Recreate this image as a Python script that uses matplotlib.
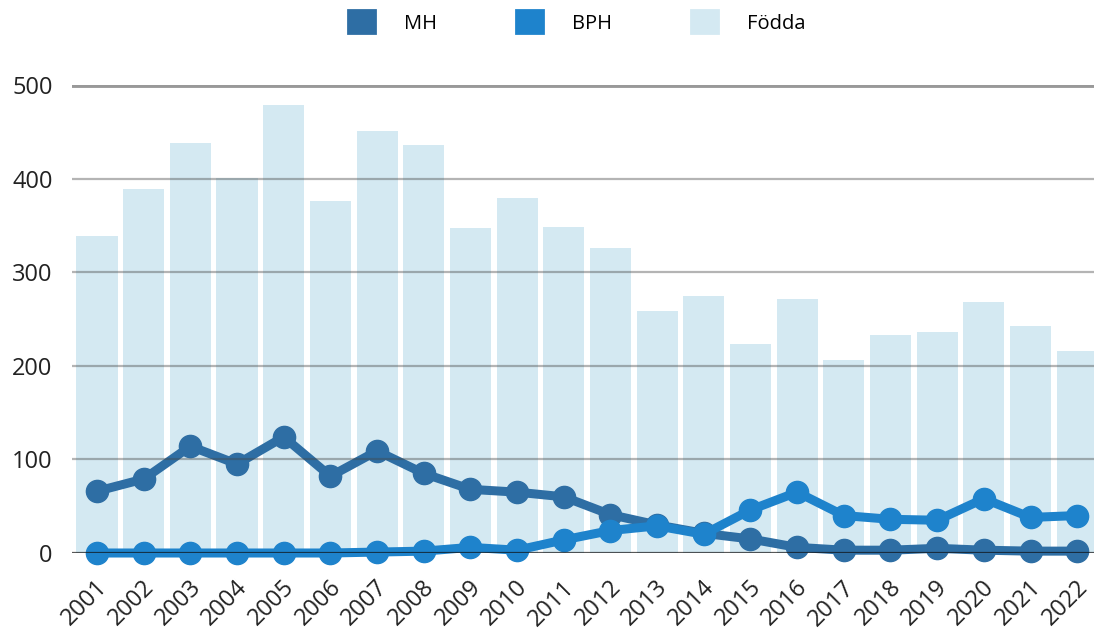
import numpy as np
import matplotlib.pyplot as plt
import matplotlib.transforms as mtransforms
from matplotlib.patches import Patch

plt.rcParams['font.family'] = ['Open Sans', 'DejaVu Sans']

# DATA
years = [str(y) for y in range(2001, 2023)]
fodda = [339, 389, 438, 401, 479, 376, 451, 436, 347, 379, 348,
         326, 259, 275, 223, 271, 206, 233, 236, 268, 243, 216]
mh = [66, 79, 114, 95, 124, 82, 109, 85, 68, 65, 60,
      41, 30, 21, 15, 6, 3, 3, 5, 3, 2, 2]
bph = [0, 0, 0, 0, 0, 0, 1, 2, 6, 3, 14,
       24, 29, 20, 46, 65, 40, 36, 35, 58, 38, 40]
yticks = [0, 100, 200, 300, 400, 500]

c_mh = '#2e6ea4'
c_bph = '#1e83cc'
c_fodda = '#d4e9f2'

fig = plt.figure(figsize=(10.94, 6.36), dpi=100)
ax = fig.add_axes([0.0658, 0.1305, 0.9342, 0.736])

x = np.arange(len(years))
ax.bar(x, fodda, width=0.88, color=c_fodda, zorder=1)

ax.plot(x, mh, color=c_mh, lw=6.5, marker='o', ms=16, zorder=3, clip_on=False)
ax.plot(x, bph, color=c_bph, lw=6.5, marker='o', ms=16, zorder=4, clip_on=False)

# gridlines sit on top, semi transparent
for v in yticks[1:-1]:
    ax.axhline(v, color='#444444', alpha=0.4, lw=1.6, zorder=5)
ax.axhline(500, color='#999999', lw=3.5, zorder=5)
ax.axhline(0, color='#111111', alpha=0.7, lw=1.6, zorder=5)

ax.set_xlim(-0.536, 21.36)
ax.set_ylim(0, 500)
ax.tick_params(length=0, pad=14)
ax.tick_params(axis='x', pad=0)
ax.set_yticks(yticks)
ax.set_yticklabels([str(v) for v in yticks], fontsize=17, color='#222222')
ax.set_xticks(x)
ax.set_xticklabels(years, fontsize=17, color='#222222', rotation=45,
                   ha='right', va='center', rotation_mode='anchor')
offset = mtransforms.ScaledTranslation(0.07, -0.31, fig.dpi_scale_trans)
for lab in ax.get_xticklabels():
    lab.set_transform(lab.get_transform() + offset)
for s in ax.spines.values():
    s.set_visible(False)

handles = [Patch(facecolor=c, edgecolor=c, linewidth=2, joinstyle='round')
           for c in (c_mh, c_bph, c_fodda)]
fig.legend(handles, ['MH', 'BPH', 'Födda'], loc='upper center',
           bbox_to_anchor=(0.527, 1.012), ncol=3, frameon=False, fontsize=14.5,
           handlelength=1.35, handleheight=1.35, handletextpad=1.45, columnspacing=3.9)

fig.savefig('out.png', dpi=100)
